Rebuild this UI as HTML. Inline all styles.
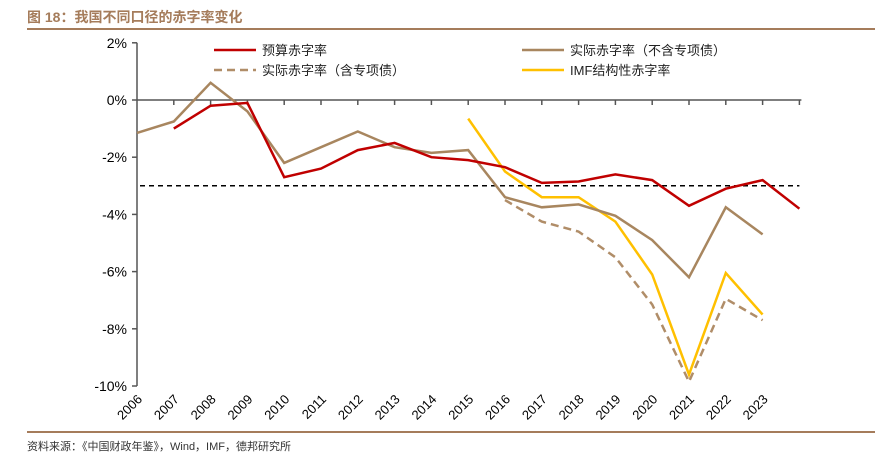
<!DOCTYPE html>
<html><head><meta charset="utf-8"><style>
body{margin:0;background:#fff;width:875px;height:458px;overflow:hidden;font-family:"Liberation Sans","Noto Sans CJK SC",sans-serif}
</style></head><body>
<svg width="875" height="458" xmlns="http://www.w3.org/2000/svg">
<text x="27" y="22" font-size="14" font-weight="bold" fill="#a57c5b" font-family="Liberation Sans,Noto Sans CJK SC,sans-serif">图 18：我国不同口径的赤字率变化</text>
<line x1="27" y1="29" x2="875" y2="29" stroke="#a57c5b" stroke-width="2"/>
<line x1="27" y1="432" x2="875" y2="432" stroke="#a57c5b" stroke-width="2"/>
<text x="27" y="450" font-size="11" fill="#333" font-family="Liberation Sans,Noto Sans CJK SC,sans-serif">资料来源：《中国财政年鉴》，Wind，IMF，德邦研究所</text>
<g id="axes"></g>
<g id="series"></g>
<g id="legend"></g>
</svg>
<script>
const years=["2006","2007","2008","2009","2010","2011","2012","2013","2014","2015","2016","2017","2018","2019","2020","2021","2022","2023","2024"];
const yTicks=[2,0,-2,-4,-6,-8,-10];
const budget=[null,-1.0,-0.2,-0.1,-2.7,-2.4,-1.75,-1.5,-2.0,-2.1,-2.35,-2.9,-2.85,-2.6,-2.8,-3.7,-3.1,-2.8,-3.8];
const actualNoSpecial=[-1.15,-0.75,0.6,-0.4,-2.2,-1.65,-1.1,-1.65,-1.85,-1.75,-3.4,-3.75,-3.65,-4.05,-4.9,-6.2,-3.75,-4.7,null];
const actualWithSpecial=[null,null,null,null,null,null,null,null,null,null,-3.5,-4.25,-4.6,-5.5,-7.15,-9.85,-6.95,-7.7,null];
const imf=[null,null,null,null,null,null,null,null,null,-0.65,-2.5,-3.4,-3.4,-4.25,-6.1,-9.6,-6.05,-7.5,null];
const refLevel=-3;
const NS="http://www.w3.org/2000/svg";
const X0=137,STEP=36.8,Y0=100,PPU=28.6;
const xs=i=>X0+i*STEP, ys=v=>Y0-v*PPU;
function mk(tag,attrs,parent){const e=document.createElementNS(NS,tag);for(const k in attrs)e.setAttribute(k,attrs[k]);parent.appendChild(e);return e;}
const ax=document.getElementById('axes');
let e=mk('line',{x1:X0,y1:ys(2),x2:X0,y2:ys(-10),stroke:'#555','stroke-width':1.5},ax);


yTicks.forEach(t=>{
 let l=mk('line',{x1:X0-5,y1:ys(t),x2:X0,y2:ys(t),stroke:'#555','stroke-width':1.5},ax);
 
 
 let tx=mk('text',{x:X0-10,y:ys(t)+5,'font-size':14,'text-anchor':'end',fill:'#000'},ax);
 tx.textContent=t+'%';
 
 
});
e=mk('line',{x1:X0,y1:Y0,x2:xs(18)+2,y2:Y0,stroke:'#555','stroke-width':1.5},ax);


for(let i=1;i<=18;i++){
 let l=mk('line',{x1:xs(i),y1:Y0,x2:xs(i),y2:Y0+5,stroke:'#555','stroke-width':1.5},ax);
 
 
}
years.slice(0,18).forEach((y,i)=>{
 const x=xs(i)+6,yy=400;
 let tx=mk('text',{x:x,y:yy,'font-size':13,'text-anchor':'end',transform:`rotate(-45 ${x} ${yy})`},ax);
 tx.textContent=y;
 
 
});
e=mk('line',{x1:X0+3,y1:ys(refLevel),x2:xs(18),y2:ys(refLevel),stroke:'#000','stroke-width':1.5,'stroke-dasharray':'5,4'},ax);


const sg=document.getElementById('series');
function path(arr){let d='',pen=false;arr.forEach((v,i)=>{if(v==null){pen=false;return;}d+=(pen?'L':'M')+xs(i).toFixed(1)+','+ys(v).toFixed(1);pen=true;});return d;}
e=mk('path',{d:path(actualWithSpecial),fill:'none',stroke:'#b08d68','stroke-width':2.5,'stroke-dasharray':'8,5'},sg);


e=mk('path',{d:path(imf),fill:'none',stroke:'#ffc000','stroke-width':2.5},sg);


e=mk('path',{d:path(actualNoSpecial),fill:'none',stroke:'#a8865f','stroke-width':2.5},sg);


e=mk('path',{d:path(budget),fill:'none',stroke:'#c00000','stroke-width':2.5},sg);


const lg=document.getElementById('legend');
const items=[[214,50,'#c00000',null,'预算赤字率','legend-budget'],[214,70,'#b08d68','8,5','实际赤字率（含专项债）','legend-actual-with-special'],[522,50,'#a8865f',null,'实际赤字率（不含专项债）','legend-actual-no-special'],[522,70,'#ffc000',null,'IMF结构性赤字率','legend-imf']];
items.forEach(it=>{
 const a={x1:it[0],y1:it[1],x2:it[0]+42,y2:it[1],stroke:it[2],'stroke-width':2.5};
 if(it[3])a['stroke-dasharray']=it[3];
 let l=mk('line',a,lg);
 
 
 let t=mk('text',{x:it[0]+48,y:it[1]+5,'font-size':13,fill:'#222','font-family':'Liberation Sans,Noto Sans CJK SC,sans-serif'},lg);
 t.textContent=it[4];
 
 
});
</script>
</body></html>
